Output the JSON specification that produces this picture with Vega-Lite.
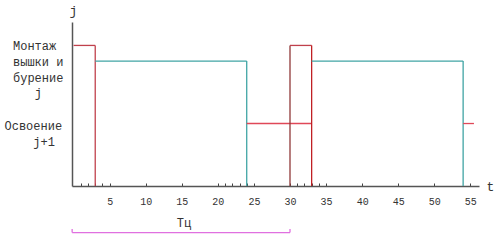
{
  "$schema": "https://vega.github.io/schema/vega-lite/v6.json",
  "autosize": "none",
  "padding": {"left": 72, "top": 22, "right": 21, "bottom": 55},
  "width": 407,
  "height": 164,
  "background": "white",
  "config": {"view": {"stroke": null}, "axis": {"labelOverlap": false}},
  "datasets": {
    "segs": [
      {"x": 0, "x2": 3, "y": 9, "y2": 9, "part": "mont1"},
      {"x": 3, "x2": 3, "y": 0, "y2": 9, "part": "mont1"},
      {"x": 3, "x2": 24, "y": 8, "y2": 8, "part": "bur"},
      {"x": 24, "x2": 24, "y": 0, "y2": 8, "part": "bur"},
      {"x": 24, "x2": 33, "y": 4, "y2": 4, "part": "osv"},
      {"x": 30, "x2": 30, "y": 0, "y2": 9, "part": "mont2left"},
      {"x": 30, "x2": 33, "y": 9, "y2": 9, "part": "mont1"},
      {"x": 33, "x2": 33, "y": 0, "y2": 9, "part": "mont2right"},
      {"x": 33, "x2": 54, "y": 8, "y2": 8, "part": "bur"},
      {"x": 54, "x2": 54, "y": 0, "y2": 8, "part": "bur"},
      {"x": 54, "x2": 55.5, "y": 4, "y2": 4, "part": "osv"},
      {"x": -0.2, "x2": 30, "y": -2.98, "y2": -2.98, "part": "tc"},
      {"x": -0.2, "x2": -0.2, "y": -2.98, "y2": -2.75, "part": "tc"},
      {"x": 30, "x2": 30, "y": -2.98, "y2": -2.75, "part": "tc"}
    ],
    "labels": [
      {"x": 15.3, "y": -2.4, "text": "Tц"}
    ]
  },
  "layer": [
    {
      "data": {"name": "segs"},
      "mark": {"type": "rule", "clip": false},
      "encoding": {
        "x": {
          "field": "x", "type": "quantitative",
          "scale": {"domain": [-0.22, 56.2], "nice": false, "zero": false},
          "axis": {
            "values": [1,2,3,4,5,10,15,20,21,22,23,24,25,30,31,32,33,34,35,40,45,50,55],
            "tickCount": 200,
            "labelExpr": "datum.value % 5 == 0 ? format(datum.value, 'd') : ''",
            "labelOverlap": false,
            "grid": false,
            "domainColor": "#555555", "domainWidth": 1.5,
            "tickColor": "#444444", "tickSize": -3, "tickWidth": 1,
            "labelFont": "Liberation Mono", "labelFontSize": 10, "labelColor": "#333333",
            "labelPadding": 13, "labelBaseline": "top", "labelFlush": false,
            "title": "t", "titleFont": "Liberation Mono", "titleFontSize": 13, "titleFontWeight": "normal",
            "titleColor": "#333333", "titleAngle": 0, "titleX": 418, "titleY": 0,
            "titleBaseline": "middle", "titleAlign": "center"
          }
        },
        "x2": {"field": "x2"},
        "y": {
          "field": "y", "type": "quantitative",
          "scale": {"domain": [0, 10.5], "nice": false, "zero": false},
          "axis": {
            "values": [9.0, 7.95, 6.96, 6.0, 3.89, 2.86],
            "tickCount": 200,
            "labelExpr": "datum.value > 8.5 ? 'Монтаж' : datum.value > 7.5 ? 'вышки и' : datum.value > 6.5 ? 'бурение' : datum.value > 5 ? 'j' : datum.value > 3.4 ? 'Освоение' : 'j+1'",
            "labelOverlap": false,
            "grid": false, "ticks": false,
            "domainColor": "#555555", "domainWidth": 1.5,
            "labelFont": "Liberation Mono", "labelFontSize": 12, "labelColor": "#333333",
            "labelAlign": "left", "labelBaseline": "middle",
            "labelPadding": {
              "condition": [
                {"test": "datum.value > 5.5 && datum.value < 6.5", "value": 37.7},
                {"test": "datum.value > 3.4 && datum.value < 4.4", "value": 68},
                {"test": "datum.value < 3.4", "value": 39.2}
              ],
              "value": 59.5
            },
            "title": "j", "titleFont": "Liberation Mono", "titleFontSize": 13, "titleFontWeight": "normal",
            "titleColor": "#333333", "titleAngle": 0, "titleX": 1, "titleY": -12,
            "titleAlign": "center", "titleBaseline": "middle"
          }
        },
        "y2": {"field": "y2"},
        "color": {
          "field": "part", "type": "nominal", "legend": null,
          "scale": {
            "domain": ["mont1", "bur", "osv", "mont2left", "mont2right", "tc"],
            "range": ["#c0404c", "#40a4a4", "#e04858", "#903838", "#c02024", "#e070e0"]
          }
        },
        "strokeWidth": {
          "field": "part", "type": "nominal", "legend": null,
          "scale": {
            "domain": ["mont1", "bur", "osv", "mont2left", "mont2right", "tc"],
            "range": [1.3, 1.3, 1.3, 1.2, 2.4, 2]
          }
        }
      }
    },
    {
      "data": {"name": "labels"},
      "mark": {"type": "text", "font": "Liberation Mono", "fontSize": 12, "color": "#333333", "align": "center", "baseline": "middle", "clip": false},
      "encoding": {
        "x": {"field": "x", "type": "quantitative"},
        "y": {"field": "y", "type": "quantitative"},
        "text": {"field": "text"}
      }
    }
  ]
}
